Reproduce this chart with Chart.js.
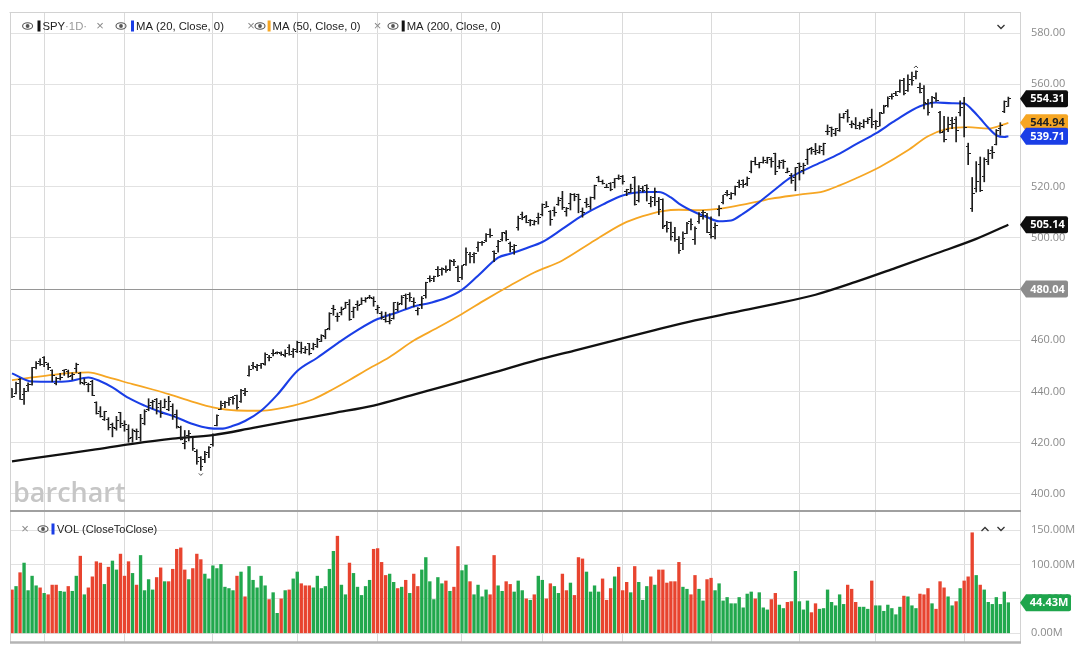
<!DOCTYPE html>
<html><head><meta charset="utf-8">
<script src="https://cdn.jsdelivr.net/npm/chart.js@4.4.1/dist/chart.umd.min.js"></script>
<style>
html,body{margin:0;padding:0;background:#fff;}
#wrap{position:relative;width:1081px;height:650px;overflow:hidden;background:#fff;}
#pc{position:absolute;left:0;top:0;}
#vc{position:absolute;left:0;top:510px;}
</style></head><body>
<div id="wrap">
<canvas id="pc" width="1081" height="512"></canvas>
<canvas id="vc" width="1081" height="136"></canvas>
</div>
<script>
// ---------------- DATA (SPY daily) ----------------
const monthStarts = [8,28,50,71,91,112,132,152,174,196,215,237];
const priceTickValues = [400,420,440,460,480,500,520,540,560,580];
const volumeTickValues = [0,50,100,150];

const opens = [
441.2,439.3,444.7,438.7,442.2,442.7,449.5,451.7,
453.2,450.7,448.4,443.1,444.9,448.2,447.9,446.2,449.1,447.1,443.1,442.7,444.0,435.7,432.4,429.2,429.2,427.1,425.5,431.7,
426.6,425.1,422.1,424.4,422.0,427.6,432.9,435.6,437.0,435.2,433.8,432.8,434.2,431.0,426.0,419.6,422.7,421.9,416.5,414.2,413.6,416.2,
419.2,426.6,433.1,435.5,435.7,437.5,438.4,436.0,439.2,446.3,450.1,449.2,450.2,450.5,453.2,455.0,455.1,454.7,454.1,457.2,455.5,
455.8,455.6,455.3,458.8,456.9,457.5,459.7,461.6,464.5,472.5,469.5,471.0,472.5,474.0,471.3,473.9,474.1,475.4,476.9,476.5,
472.2,470.4,468.3,467.5,468.4,471.9,474.2,477.6,477.8,475.3,471.8,474.0,477.7,484.0,484.0,487.8,487.6,487.6,487.7,490.6,488.6,
484.6,489.7,493.7,493.5,496.3,498.1,498.8,501.2,494.5,496.8,499.3,501.7,497.7,495.4,504.0,509.3,508.3,506.7,505.3,508.1,
509.0,512.0,510.2,510.6,513.1,515.5,510.5,513.5,517.1,517.0,510.2,514.0,512.2,515.8,523.4,522.1,519.8,521.2,521.7,523.2,
523.8,518.2,517.7,523.5,514.5,519.2,520.5,513.5,515.7,514.4,515.1,504.9,506.1,502.0,499.4,497.8,501.8,506.6,499.2,506.4,510.1,508.6,
501.4,504.2,511.2,513.8,517.6,515.3,517.4,521.8,522.6,521.1,525.8,529.9,528.8,529.6,529.3,530.6,533.0,527.9,530.3,525.7,524.5,523.6,
529.0,526.5,530.8,535.0,533.7,533.2,534.1,541.6,543.2,540.9,542.1,547.2,549.4,544.4,544.3,544.0,543.7,545.4,547.2,
545.6,543.7,548.7,551.8,555.4,556.3,557.1,561.4,557.6,562.0,562.9,558.8,558.5,552.4,553.0,554.5,548.9,541.4,542.3,546.0,546.3,549.0,
552.6,535.8,511.6,519.2,528.5,523.9,529.8,534.2,536.5,542.9,549.5,551.4];

const highs = [
441.2,443.7,445.2,441.3,443.4,449.5,451.7,452.8,
453.7,451.1,448.5,445.6,447.1,448.5,448.4,447.3,451.1,447.5,445.0,443.3,444.4,436.0,434.1,432.3,429.8,427.7,430.3,431.9,
428.6,427.0,425.4,425.4,431.1,432.9,437.2,436.6,437.3,436.5,437.1,438.1,435.2,432.8,426.5,424.8,424.8,421.9,417.3,414.6,416.7,418.5,
423.5,430.9,436.3,436.2,437.6,438.1,438.6,440.9,441.3,450.0,451.4,450.6,451.0,455.1,454.1,456.4,455.5,455.5,456.3,458.3,456.8,
459.7,459.3,457.6,458.8,458.9,460.8,462.2,464.2,470.8,473.7,470.7,473.0,474.9,475.9,473.0,475.4,476.6,476.7,477.6,477.0,
473.7,471.2,471.0,470.4,474.8,474.9,477.5,478.1,478.6,476.6,472.8,477.1,482.7,485.2,485.1,488.8,488.3,489.1,491.4,491.6,489.1,
489.2,496.1,494.4,494.3,498.5,498.7,501.7,503.5,495.0,499.1,502.2,502.9,498.4,497.4,508.5,510.1,508.8,507.2,506.9,509.7,
513.3,514.2,510.7,512.1,515.9,518.2,511.9,517.4,517.3,517.1,511.7,515.5,516.0,520.6,524.1,522.6,521.0,521.6,523.2,524.6,
524.4,519.0,521.0,523.9,520.4,520.2,520.8,516.2,519.5,515.8,515.3,506.5,506.2,504.1,500.5,502.4,506.1,507.4,504.3,509.9,510.8,509.6,
508.2,505.9,512.6,516.6,518.6,517.7,520.2,522.6,522.7,523.8,530.1,531.5,529.5,531.6,531.5,531.4,533.1,530.3,530.5,527.3,525.2,527.5,
529.3,529.2,534.7,535.4,536.9,536.0,537.0,544.1,543.3,542.8,548.5,548.6,550.1,545.7,547.0,545.2,546.2,546.9,550.3,
545.9,549.0,551.8,555.1,556.3,557.2,561.7,562.3,563.7,564.8,565.2,560.5,559.5,554.1,555.3,556.7,549.4,547.5,547.2,547.1,547.3,553.5,
554.9,537.0,523.6,529.8,531.6,531.3,534.5,535.7,542.3,545.0,553.5,555.0];

const lows = [
437.6,439.1,436.9,435.0,440.0,442.5,448.8,450.2,
449.7,448.5,443.8,442.6,444.5,446.3,445.5,444.6,447.5,442.9,442.6,439.9,438.4,431.2,430.0,428.7,425.0,422.3,424.9,425.9,
424.5,420.2,420.2,421.2,420.6,427.0,432.5,433.2,431.2,429.9,433.6,432.5,429.1,425.7,421.1,417.6,420.7,417.0,411.6,409.2,412.2,414.2,
418.7,426.6,433.0,433.7,434.6,435.1,433.1,435.8,438.4,446.0,448.8,448.2,449.0,450.3,452.0,453.9,454.7,454.1,453.5,454.2,453.3,
455.2,454.9,454.9,454.3,456.3,457.2,459.5,460.6,464.1,469.8,467.4,469.9,472.5,467.8,468.8,471.7,474.0,474.9,476.3,473.3,
470.5,468.2,467.1,466.4,468.3,471.4,473.9,472.3,475.2,473.1,469.9,472.4,476.5,482.8,482.9,484.9,485.4,486.5,487.2,489.2,482.9,
483.8,489.3,490.2,490.2,494.7,497.1,498.5,500.2,490.7,494.4,498.8,498.8,494.5,493.6,503.0,507.1,505.9,504.7,505.0,505.4,
508.6,512.0,504.9,508.5,512.7,511.1,508.5,510.9,514.5,509.8,508.1,511.9,511.1,515.1,521.9,521.0,519.6,518.4,519.5,522.8,
521.0,516.5,517.7,512.8,514.0,517.9,514.4,512.1,512.6,509.1,503.6,502.2,499.1,498.6,493.9,495.4,501.7,503.1,497.5,505.7,507.3,502.0,
499.9,499.6,508.6,513.3,516.4,515.1,516.7,519.6,519.7,520.4,525.4,528.5,527.3,529.2,529.1,527.6,524.7,527.1,527.1,525.4,521.3,518.4,
522.6,525.0,528.7,532.7,532.5,533.0,532.4,540.3,539.6,539.9,541.6,546.7,545.2,543.0,542.6,542.4,543.0,544.6,543.0,
542.5,543.7,548.7,551.1,554.2,555.5,556.8,555.8,557.2,559.6,562.1,556.6,550.4,547.9,551.0,553.3,540.9,537.5,541.5,542.7,537.5,547.6,
539.4,528.6,510.3,517.9,518.1,521.9,528.6,531.0,536.3,540.1,548.9,551.3];

const closes = [
438.2,443.0,436.9,440.0,442.8,449.2,451.0,450.4,
451.2,449.2,446.2,444.9,445.5,448.5,446.0,446.5,450.4,443.4,443.6,442.7,438.6,431.4,430.4,432.2,425.9,426.1,428.5,427.5,
427.3,421.6,424.7,424.5,429.5,432.3,434.5,436.3,433.7,431.5,436.04,436.02,430.2,426.4,421.2,420.5,423.6,417.6,412.6,410.7,415.6,418.2,
422.7,430.8,434.7,435.7,436.9,437.3,433.8,440.6,440.2,448.7,449.7,450.2,450.8,454.3,453.3,455.0,455.3,454.5,454.9,454.6,456.4,
459.1,456.7,456.6,454.8,458.2,460.2,462.0,464.1,470.5,472.0,469.3,472.0,474.8,468.3,472.7,473.7,475.7,476.5,476.7,475.3,
472.7,468.8,467.3,467.9,474.6,473.9,476.6,476.4,476.7,474.9,472.3,476.5,482.4,483.5,484.9,485.4,488.0,487.4,491.3,490.9,482.9,
489.2,494.4,492.6,494.0,498.1,498.3,501.2,501.0,494.1,498.6,502.0,499.5,496.8,497.2,507.5,507.9,506.0,506.9,506.3,508.1,
512.9,512.3,507.2,509.8,514.8,511.7,511.3,516.8,516.0,515.0,509.8,512.9,515.7,520.5,522.2,521.2,519.8,518.8,523.2,523.1,
522.2,518.8,519.4,513.1,518.4,518.7,519.3,514.1,518.0,510.9,504.5,503.5,500.6,499.5,495.2,499.7,505.7,505.4,503.5,508.3,510.1,502.0,
500.4,505.0,511.3,516.8,517.1,517.2,520.2,520.8,520.9,523.3,529.8,528.7,529.5,530.1,531.4,529.8,526.0,529.4,529.8,526.1,522.6,527.4,
527.8,528.4,534.67,534.66,534.0,535.7,537.0,541.4,542.5,542.8,547.1,548.5,547.0,544.5,542.7,544.8,545.5,546.4,544.2,
545.3,549.0,551.5,554.6,555.3,555.8,561.3,556.5,560.0,561.5,564.9,556.9,552.7,549.0,554.7,553.8,541.2,538.4,544.4,544.8,542.0,550.8,
543.0,532.9,517.4,522.2,518.7,530.7,533.0,533.3,542.0,543.8,553.1,554.31];

const volumes = [ // millions
63,68,88,102,62,83,69,66,
58,56,70,70,61,60,68,61,83,112,56,66,82,104,102,71,96,105,92,115,
83,104,87,70,113,62,78,63,81,95,75,75,93,122,124,92,78,94,115,107,86,79,
98,94,100,67,65,62,83,89,53,97,77,66,83,69,49,59,29,50,62,63,79,
89,72,69,69,66,83,65,68,93,119,141,70,56,102,87,67,55,68,77,122,
123,103,84,86,74,65,67,77,58,86,68,92,110,75,49,81,72,76,61,67,126,
91,99,75,56,70,53,63,56,113,69,61,75,71,60,76,62,50,48,56,83,
77,50,72,68,58,86,62,73,55,110,108,89,60,69,60,79,48,65,82,96,
62,74,59,97,74,48,68,82,70,92,92,73,75,75,103,67,64,56,84,64,47,78,
80,62,72,47,52,43,43,52,37,57,60,50,59,37,34,49,58,41,36,45,46,90,
46,34,47,30,43,35,36,63,45,40,56,42,70,64,45,38,38,35,76,
40,40,32,41,36,27,38,54,53,40,36,57,56,65,43,35,75,66,53,40,46,65,
76,82,146,84,70,63,45,42,52,42,60,44.43];
const priorClose = 439.3;

// moving averages: bar index -> value
const ma20Idx = [0,5,10,14,19,22,25,29,33,37,41,45,49,52,55,58,62,66,71,76,82,86,91,96,100,104,108,112,116,121,124,128,132,137,142,147,152,158,161,164,166,170,173,176,179,182,186,190,194,200,206,210,215,220,226,230,234,237,239,241,243,245,247,248];
const ma20    = [447.1,443.9,443.8,444.0,445.5,444.0,441.6,437.5,434.5,432.0,429.9,427.3,425.7,425.5,426.6,428.5,432.5,438.7,448.0,453.2,459.9,464.0,468.3,471.0,473.2,474.6,476.5,479.7,485.2,492.3,493.8,496.0,498.4,503.5,508.8,513.0,516.6,517.9,517.9,515.8,513.4,510.0,508.1,506.5,506.8,509.5,514.0,519.0,523.8,528.5,532.9,536.5,540.8,546.0,551.4,552.9,552.6,552.5,550.0,546.6,543.0,540.1,539.4,539.71];
const ma50Idx = [0,5,10,15,19,24,30,35,39,45,50,56,62,66,70,75,80,84,88,94,100,106,112,118,124,130,137,144,152,157,162,166,171,175,179,186,189,196,202,206,210,216,223,228,233,238,243,248];
const ma50    = [444.5,445.5,446.5,447.3,447.5,445.5,442.9,440.8,439.0,436.0,433.8,432.6,432.5,433.2,434.5,437.0,441.0,444.5,448.2,453.5,459.9,465.0,470.3,476.0,481.4,486.5,491.2,498.0,505.5,508.5,510.5,511.0,510.8,511.2,512.1,514.3,515.3,516.9,518.2,520.5,523.2,527.7,534.2,539.7,542.7,543.3,542.7,544.94];
const ma200Idx = [0,10,20,30,40,50,60,70,80,90,100,110,120,130,140,150,160,170,180,190,200,210,220,230,240,248];
const ma200    = [412.7,415.0,417.2,419.6,421.6,423.0,425.8,428.7,431.6,434.5,438.8,443.1,447.5,452.0,456.0,460.0,464.0,467.8,471.0,474.2,477.8,482.8,488.3,493.9,499.6,505.14];
const referenceLine = 480.04;

// ---------------- STYLE ----------------
const UP = '#21a84d', DOWN = '#e8442f';
const BLUE = '#1a3ee6', ORANGE = '#f6a623', BLACK = '#111111';
const GRID = '#e2e2e2', VGRID = '#dadada', LABEL = '#8a8a8a';
const X_MIN = -0.5, X_MAX = 250.9;
const AXIS_W = 61;
Chart.defaults.font.family = '"Open Sans", "Noto Sans", sans-serif';

function tickImage(side){
  const c = document.createElement('canvas'); c.width = 5; c.height = 1;
  const g = c.getContext('2d'); g.fillStyle = '#1a1a1a';
  if (side === 'left') g.fillRect(0,0,2,1); else g.fillRect(3,0,2,1);
  return c;
}
const openImg = tickImage('left'), closeImg = tickImage('right');

function drawEye(ctx, cx, cy){
  ctx.save(); ctx.strokeStyle = '#555'; ctx.fillStyle = '#555'; ctx.lineWidth = 1.1;
  ctx.beginPath(); ctx.ellipse(cx, cy, 5, 3.3, 0, 0, Math.PI*2); ctx.stroke();
  ctx.beginPath(); ctx.arc(cx, cy, 1.9, 0, Math.PI*2); ctx.fill(); ctx.restore();
}
function drawChevron(ctx, cx, cy, up){
  ctx.save(); ctx.strokeStyle = '#333'; ctx.lineWidth = 1.3; ctx.beginPath();
  if (up){ ctx.moveTo(cx-3.5, cy+2); ctx.lineTo(cx, cy-1.5); ctx.lineTo(cx+3.5, cy+2); }
  else { ctx.moveTo(cx-3.5, cy-2); ctx.lineTo(cx, cy+1.5); ctx.lineTo(cx+3.5, cy-2); }
  ctx.stroke(); ctx.restore();
}
function drawTag(ctx, y, text, bg, fg, end){
  const tip = 1020, body = 1026, h = 8.5; end = end || 1068;
  ctx.save(); ctx.beginPath();
  ctx.moveTo(tip, y); ctx.lineTo(body, y-h); ctx.lineTo(end-2, y-h);
  ctx.quadraticCurveTo(end, y-h, end, y-h+2); ctx.lineTo(end, y+h-2);
  ctx.quadraticCurveTo(end, y+h, end-2, y+h); ctx.lineTo(body, y+h); ctx.closePath();
  ctx.fillStyle = bg; ctx.fill();
  ctx.fillStyle = fg; ctx.font = 'bold 11px "Open Sans"'; ctx.textAlign = 'center'; ctx.textBaseline = 'middle';
  ctx.fillText(text, (body+end)/2 + 0.5, y + 0.5); ctx.restore();
}
function legendItem(ctx, x, eyeX, markX, color, parts){
  ctx.save();
  if (x !== null){ ctx.fillStyle = '#888'; ctx.font = '13px "Liberation Sans", Arial'; ctx.textAlign='center'; ctx.textBaseline='middle'; ctx.fillText('\u00d7', x, 26); }
  drawEye(ctx, eyeX, 26);
  ctx.fillStyle = color; ctx.fillRect(markX, 20.5, 3, 11);
  ctx.font = '11.3px "Liberation Sans", Arial'; ctx.textAlign='left'; ctx.textBaseline='middle';
  let tx = markX + 5;
  parts.forEach(p => { ctx.fillStyle = p[1]; ctx.fillText(p[0], tx, 26.5); tx += ctx.measureText(p[0]).width; });
  ctx.restore();
}

const xScaleCfg = () => ({
  type: 'linear', min: X_MIN, max: X_MAX, offset: false,
  afterBuildTicks: ax => { ax.ticks = monthStarts.map(v => ({ value: v })); },
  ticks: { display: false },
  grid: { color: VGRID, drawTicks: false, offset: false },
  border: { display: false },
  afterFit: s => { s.height = 0; s.paddingLeft = 0; s.paddingRight = 0; }
});
const yFit = s => { s.width = AXIS_W; s.paddingTop = 0; s.paddingBottom = 0; };

// ---------------- PRICE PANEL ----------------
const pricePlugin = {
  id: 'pricePanel',
  beforeDatasetsDraw(chart){
    const ctx = chart.ctx, y = chart.scales.y, a = chart.chartArea;
    ctx.save();
    ctx.fillStyle = '#c6c6c6'; ctx.font = '600 27px "Open Sans"'; ctx.textBaseline = 'alphabetic';
    ctx.fillText('barchart', 13, 502);
    const ry = Math.round(y.getPixelForValue(referenceLine)) + 0.5;
    ctx.strokeStyle = '#969696'; ctx.lineWidth = 1;
    ctx.beginPath(); ctx.moveTo(a.left, ry); ctx.lineTo(a.right, ry); ctx.stroke();
    ctx.restore();
  },
  afterDraw(chart){
    const ctx = chart.ctx, xs = chart.scales.x, ys = chart.scales.y, a = chart.chartArea;
    ctx.save();
    ctx.strokeStyle = '#d2d2d2'; ctx.lineWidth = 1;
    ctx.beginPath(); ctx.moveTo(a.left - 0.5, a.top + 0.5); ctx.lineTo(a.right + 0.5, a.top + 0.5);
    ctx.moveTo(a.left + 0.5, a.top); ctx.lineTo(a.left + 0.5, a.bottom);
    ctx.moveTo(a.right + 0.5, a.top); ctx.lineTo(a.right + 0.5, a.bottom); ctx.stroke();
    // legend
    legendItem(ctx, null, 27.6, 37.5, BLACK, [['SPY', '#222'], ['\u00b71D\u00b7', '#999']]);
    legendItem(ctx, 100, 121, 131, BLUE, [['MA (20, Close, 0)', '#222']]);
    legendItem(ctx, 251, 260, 267.6, ORANGE, [['MA (50, Close, 0)', '#222']]);
    legendItem(ctx, 377.6, 393, 401.7, BLACK, [['MA (200, Close, 0)', '#222']]);
    drawChevron(ctx, 1001, 27, false);
    // hi / lo markers
    let hi = 0, lo = 0;
    highs.forEach((v,i) => { if (v > highs[hi]) hi = i; });
    lows.forEach((v,i) => { if (v < lows[lo]) lo = i; });
    ctx.strokeStyle = '#444'; ctx.lineWidth = 1;
    let hx = xs.getPixelForValue(hi), hy = ys.getPixelForValue(highs[hi]) - 3;
    ctx.beginPath(); ctx.moveTo(hx-2, hy); ctx.lineTo(hx, hy-2); ctx.lineTo(hx+2, hy); ctx.stroke();
    let lx = xs.getPixelForValue(lo), ly = ys.getPixelForValue(lows[lo]) + 3;
    ctx.beginPath(); ctx.moveTo(lx-2, ly); ctx.lineTo(lx, ly+2); ctx.lineTo(lx+2, ly); ctx.stroke();
    ctx.restore();
    // value tags
    const last = a => a[a.length - 1];
    drawTag(ctx, ys.getPixelForValue(referenceLine), referenceLine.toFixed(2), '#8c8c8c', '#fff');
    drawTag(ctx, ys.getPixelForValue(last(ma200)), last(ma200).toFixed(2), '#0d0d0d', '#fff');
    drawTag(ctx, ys.getPixelForValue(last(closes)), last(closes).toFixed(2), '#0d0d0d', '#fff');
    drawTag(ctx, ys.getPixelForValue(last(ma50)), last(ma50).toFixed(2), ORANGE, '#222');
    drawTag(ctx, ys.getPixelForValue(last(ma20)), last(ma20).toFixed(2), BLUE, '#fff');
  }
};

new Chart(document.getElementById('pc'), {
  type: 'bar',
  data: {
    datasets: [
      { type: 'bar', label: 'SPY range', data: lows.map((l,i) => ({ x: i, y: [l, highs[i]] })),
        backgroundColor: '#1c1c1c', barThickness: 1, order: 1 },
      { type: 'line', label: 'open', data: opens.map((v,i) => ({ x: i, y: v })), showLine: false,
        pointStyle: openImg, pointRadius: 1, pointHoverRadius: 0, pointBorderWidth: 0, order: 0 },
      { type: 'line', label: 'close', data: closes.map((v,i) => ({ x: i, y: v })), showLine: false,
        pointStyle: closeImg, pointRadius: 1, pointHoverRadius: 0, pointBorderWidth: 0, order: 0 },
      { type: 'line', label: 'MA 200', data: ma200Idx.map((x,i) => ({ x, y: ma200[i] })), borderColor: BLACK,
        borderWidth: 2.3, pointRadius: 0, pointHoverRadius: 0, cubicInterpolationMode: 'monotone', order: 5 },
      { type: 'line', label: 'MA 50', data: ma50Idx.map((x,i) => ({ x, y: ma50[i] })), borderColor: ORANGE,
        borderWidth: 1.8, pointRadius: 0, pointHoverRadius: 0, cubicInterpolationMode: 'monotone', order: 4 },
      { type: 'line', label: 'MA 20', data: ma20Idx.map((x,i) => ({ x, y: ma20[i] })), borderColor: BLUE,
        borderWidth: 2.1, pointRadius: 0, pointHoverRadius: 0, cubicInterpolationMode: 'monotone', order: 3 }
    ]
  },
  options: {
    responsive: false, animation: false, events: [],
    layout: { autoPadding: false, padding: { left: 10, top: 12, right: 0, bottom: 1 } },
    plugins: { legend: { display: false }, tooltip: { enabled: false } },
    scales: {
      x: xScaleCfg(),
      y: { position: 'right', min: 393.35, max: 588.22, beginAtZero: false,
        afterBuildTicks: ax => { ax.ticks = priceTickValues.map(v => ({ value: v })); },
        ticks: { padding: 11, color: LABEL, font: { size: 11 }, callback: v => Number(v).toFixed(2) },
        grid: { color: GRID, drawTicks: false }, border: { display: false },
        afterFit: yFit }
    }
  },
  plugins: [pricePlugin]
});

// ---------------- VOLUME PANEL ----------------
const volColors = closes.map((c,i) => (c >= (i === 0 ? priorClose : closes[i-1])) ? UP : DOWN);
const volPlugin = {
  id: 'volPanel',
  afterDraw(chart){
    const ctx = chart.ctx, ys = chart.scales.y, a = chart.chartArea;
    ctx.save();
    ctx.strokeStyle = '#d2d2d2'; ctx.lineWidth = 1;
    ctx.beginPath(); ctx.moveTo(a.left + 0.5, 0); ctx.lineTo(a.left + 0.5, a.bottom);
    ctx.moveTo(a.right + 0.5, 0); ctx.lineTo(a.right + 0.5, a.bottom); ctx.stroke();
    ctx.strokeStyle = '#a0a0a0'; ctx.lineWidth = 2;
    ctx.beginPath(); ctx.moveTo(a.left, 1); ctx.lineTo(a.right + 1, 1); ctx.stroke();
    ctx.strokeStyle = '#b4b4b4'; ctx.lineWidth = 2.5;
    ctx.beginPath(); ctx.moveTo(a.left, a.bottom + 0.5); ctx.lineTo(a.right + 1, a.bottom + 0.5); ctx.stroke();
    // legend
    ctx.fillStyle = '#888'; ctx.font = '13px "Liberation Sans", Arial'; ctx.textAlign = 'center'; ctx.textBaseline = 'middle';
    ctx.fillText('\u00d7', 25, 19);
    drawEye(ctx, 43, 19);
    ctx.fillStyle = BLUE; ctx.fillRect(51.5, 13.5, 3, 11);
    ctx.fillStyle = '#222'; ctx.font = '11px "Liberation Sans", Arial'; ctx.textAlign = 'left';
    ctx.fillText('VOL (CloseToClose)', 57, 19.5);
    drawChevron(ctx, 985, 19, true);
    drawChevron(ctx, 1001, 19, false);
    ctx.restore();
    const lv = volumes[volumes.length - 1];
    drawTag(ctx, ys.getPixelForValue(lv), lv.toFixed(2) + 'M', '#1ea54c', '#fff', 1071);
  }
};

new Chart(document.getElementById('vc'), {
  type: 'bar',
  data: {
    datasets: [
      { type: 'bar', label: 'Volume', data: volumes.map((v,i) => ({ x: i, y: v })),
        backgroundColor: volColors, barThickness: 2.7 }
    ]
  },
  options: {
    responsive: false, animation: false, events: [],
    layout: { autoPadding: false, padding: { left: 10, top: 2, right: 0, bottom: 4 } },
    plugins: { legend: { display: false }, tooltip: { enabled: false } },
    scales: {
      x: xScaleCfg(),
      y: { position: 'right', min: -12.63, max: 176.14, beginAtZero: false,
        afterBuildTicks: ax => { ax.ticks = volumeTickValues.map(v => ({ value: v })); },
        ticks: { padding: 11, color: LABEL, font: { size: 11 }, callback: v => Number(v).toFixed(2) + 'M' },
        grid: { color: GRID, drawTicks: false }, border: { display: false },
        afterFit: yFit }
    }
  },
  plugins: [volPlugin]
});
</script>
</body></html>
